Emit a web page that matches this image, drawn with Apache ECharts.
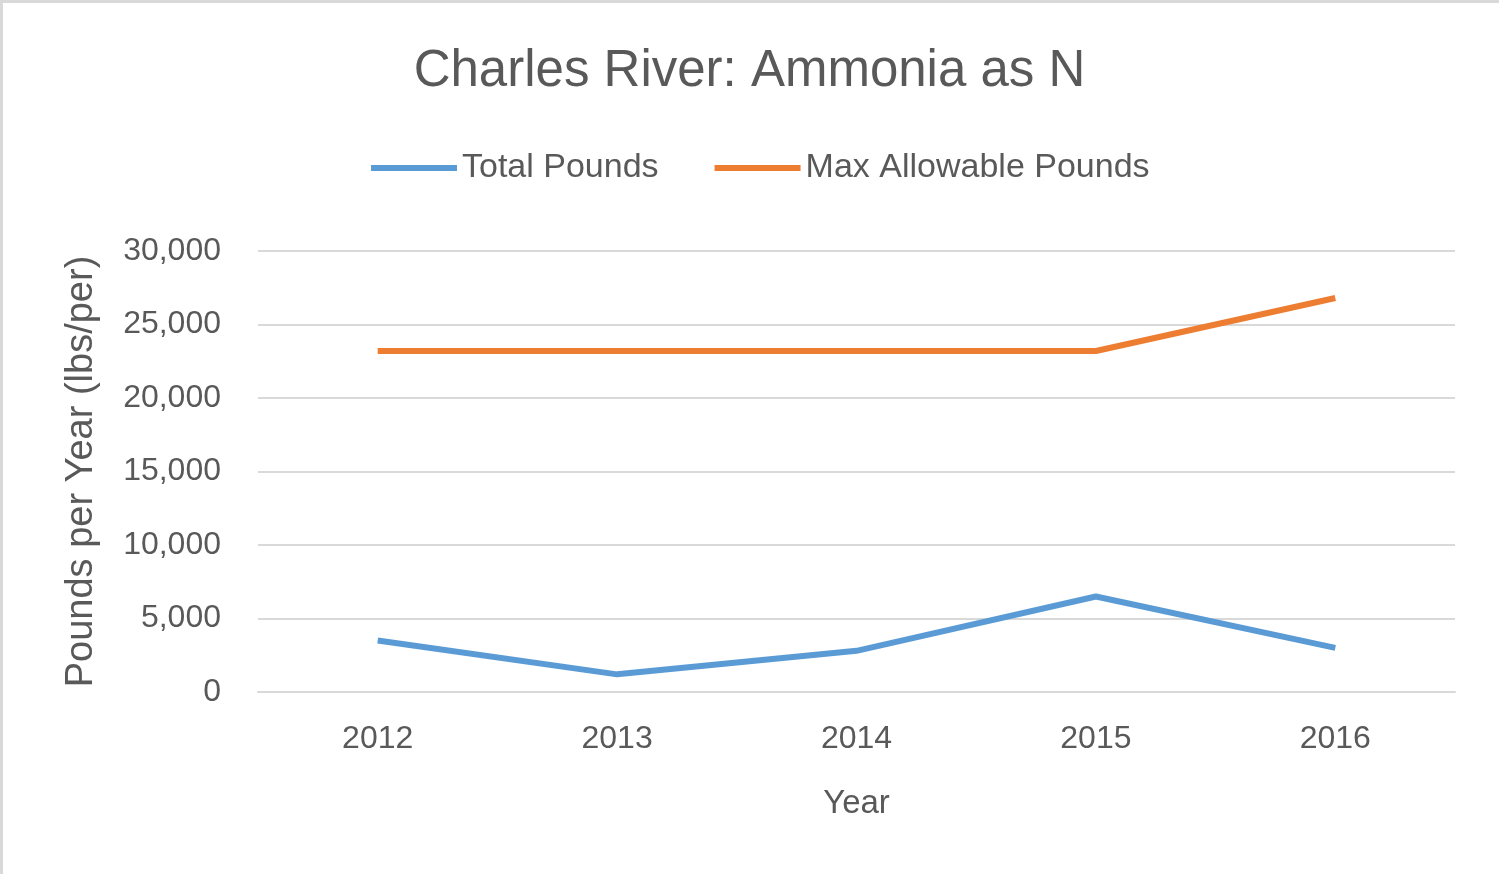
<!DOCTYPE html>
<html>
<head>
<meta charset="utf-8">
<script src="https://cdn.jsdelivr.net/npm/echarts@6/dist/echarts.min.js"></script>
<style>
  html, body { margin: 0; padding: 0; background: #fff; }
  #chart { width: 1499px; height: 874px; }
  #frame {
    position: absolute; left: 0; top: 0; width: 1499px; height: 874px;
    box-sizing: border-box; border-left: 3px solid #d9d9d9; border-top: 3px solid #d9d9d9;
    pointer-events: none;
  }
</style>
</head>
<body>
<div id="chart"></div>
<div id="frame"></div>
<script>
// values
const years = ["2012", "2013", "2014", "2015", "2016"];
const totalPounds = [3500, 1200, 2800, 6500, 3000];
const maxAllowable = [23200, 23200, 23200, 23200, 26800];

const font = "'Liberation Sans', Arial, sans-serif";
const grey = "#595959";

const chartObj = echarts.init(document.getElementById("chart"));
chartObj.setOption({
  animation: false,
  title: {
    text: "Charles River: Ammonia as N",
    left: "center",
    top: 41,
    textStyle: { fontFamily: font, fontSize: 51, fontWeight: "normal", color: grey }
  },
  legend: {
    left: 366,
    top: 146,
    icon: "rect",
    itemWidth: 86,
    itemHeight: 6,
    itemGap: 56,
    textStyle: { fontFamily: font, fontSize: 34, color: grey }
  },
  grid: { left: 258, right: 44, top: 251, bottom: 182 },
  xAxis: {
    type: "category",
    data: years,
    name: "Year",
    nameLocation: "middle",
    nameGap: 95,
    nameTextStyle: { fontFamily: font, fontSize: 33, color: grey },
    axisLine: { lineStyle: { color: "#d9d9d9", width: 2 } },
    axisTick: { show: false },
    axisLabel: { fontFamily: font, fontSize: 32, color: grey, margin: 31 }
  },
  yAxis: {
    type: "value",
    min: 0,
    max: 30000,
    interval: 5000,
    name: "Pounds per Year (lbs/per)",
    nameLocation: "middle",
    nameGap: 157,
    nameTextStyle: { fontFamily: font, fontSize: 38, color: grey },
    axisLine: { show: false },
    axisTick: { show: false },
    splitLine: { lineStyle: { color: "#d9d9d9", width: 2 } },
    axisLabel: {
      fontFamily: font, fontSize: 32, color: grey, margin: 37,
      formatter: (v) => v.toLocaleString("en-US")
    }
  },
  series: [
    {
      name: "Total Pounds",
      type: "line",
      data: totalPounds,
      showSymbol: false,
      lineStyle: { color: "#5b9bd5", width: 6 },
      itemStyle: { color: "#5b9bd5" }
    },
    {
      name: "Max Allowable Pounds",
      type: "line",
      data: maxAllowable,
      showSymbol: false,
      lineStyle: { color: "#ed7d31", width: 6 },
      itemStyle: { color: "#ed7d31" }
    }
  ]
});
window.addEventListener("resize", function() {
  chartObj.resize();
});
</script>
</body>
</html>
